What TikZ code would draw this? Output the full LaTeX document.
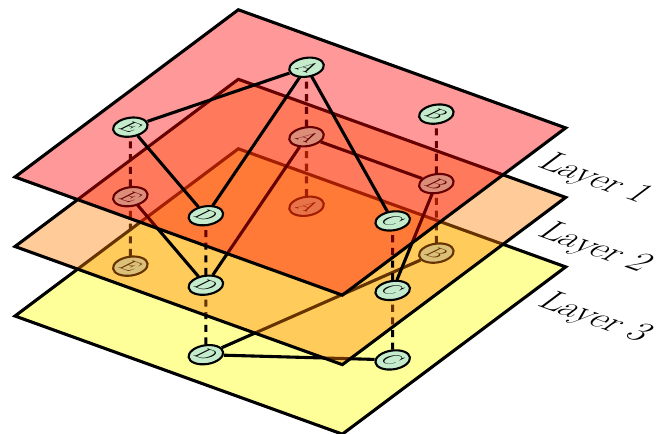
\documentclass[tikz,border=0pt]{standalone}
\usepackage{amsmath}
\usepackage[x11names, rgb]{xcolor}
\usetikzlibrary{calc}
\definecolor{nodegreen}{RGB}{196,236,204}

\begin{document}
\begin{tikzpicture}[x=0.025cm, y=0.025cm]
\tikzset{
	flat/.style = {cm = {0.9407,-0.3395,0.8004,0.5994,(15,#1)}, every node/.append style = {transform shape}},
	plane/.style = {draw, line width = 2.2pt, fill opacity = 0.4},
	vertex/.style = {circle, draw, line width = 1.5pt, fill = nodegreen, minimum size = 0.7cm, inner sep = 0, font = \Large},
	link/.style = {line width = 2.2pt},
	interlink/.style = {line width = 2.2pt, dash pattern = on 5pt off 4pt},
	layer label/.style = {anchor = base west, inner sep = 0, font = \fontsize{26}{31}\selectfont},
}
\useasboundingbox (0,-434) rectangle (659,0);

\foreach \l/\y in {1/-177, 2/-246.5, 3/-316}{
	\begin{scope}[flat = \y]
	\foreach \n/\p in {A/{104,242}, B/{242,242}, C/{313,104}, D/{174,34}, E/{35,103}}
		\coordinate (\n-\l) at (\p);
	\end{scope}
}

\begin{scope}[flat = -316]
\draw [plane, fill = yellow] (0,0) rectangle (348,279);
\node (L3) [layer label] at (363,224) {Layer 3};
\foreach \n in {A,B,C,D,E}
	\node (\n3) [vertex] at (\n-3) {$\n$};
\draw [link] (D3) -- (B3) (D3) -- (C3);
\end{scope}

\foreach \n in {A,B,C,D,E}
	\draw [interlink] (\n3) -- (\n-2);

\begin{scope}[flat = -246.5]
\draw [plane, fill = orange] (0,0) rectangle (348,279);
\node (L2) [layer label] at (363,224) {Layer 2};
\foreach \n in {A,B,C,D,E}
	\node (\n2) [vertex] at (\n-2) {$\n$};
\draw [link] (A2) -- (B2) (A2) -- (D2) (E2) -- (D2) (B2) -- (C2);
\end{scope}

\foreach \n in {A,B,C,D,E}
	\draw [interlink] (\n2) -- (\n-1);

\begin{scope}[flat = -177]
\draw [plane, fill = red] (0,0) rectangle (348,279);
\node (L1) [layer label] at (363,224) {Layer 1};
\foreach \n in {A,B,C,D,E}
	\node (\n1) [vertex] at (\n-1) {$\n$};
\draw [link] (E1) -- (A1) (A1) -- (D1) (E1) -- (D1) (A1) -- (C1);
\end{scope}

\end{tikzpicture}
\end{document}
